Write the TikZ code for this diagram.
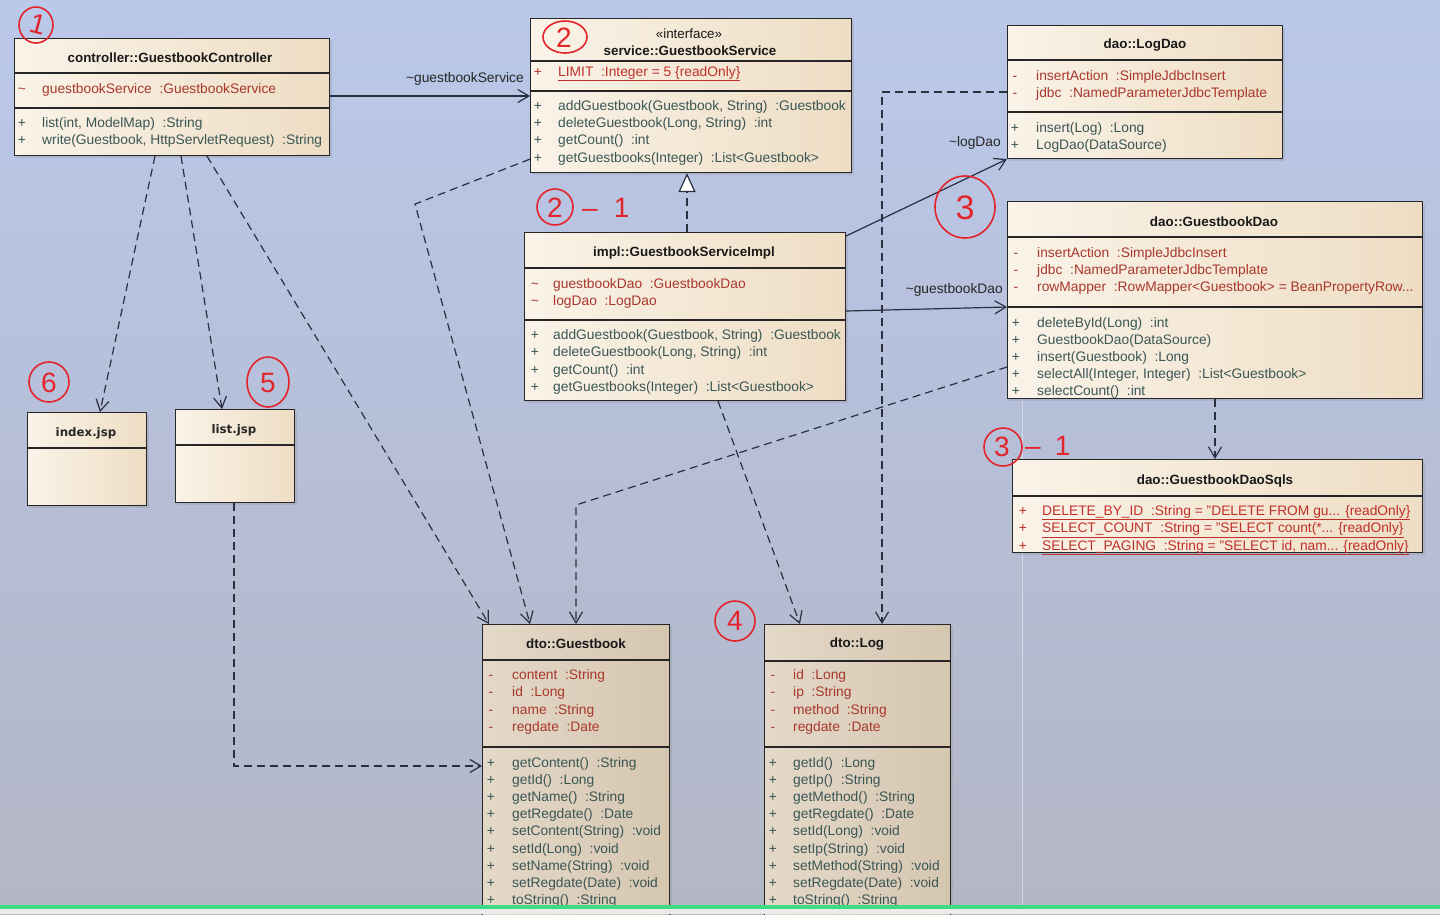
\documentclass[tikz,border=0pt]{standalone}
\usepackage{fontspec}
\setmainfont{Liberation Sans}
\newfontfamily\jspfont{DejaVu Sans}
\usetikzlibrary{arrows.meta,calc,shadows}

\definecolor{bgtop}{HTML}{BAC8EA}
\definecolor{bgmid}{HTML}{B8C2DE}
\definecolor{bgbot}{HTML}{B3B6C5}
\definecolor{boxlight}{HTML}{FAF3E8}
\definecolor{boxdark}{HTML}{EEDDC4}
\definecolor{dtolight}{HTML}{E4D8C8}
\definecolor{dtodark}{HTML}{D5C6B0}
\definecolor{attrred}{HTML}{A8372C}
\definecolor{staticred}{HTML}{C0302A}
\definecolor{optext}{HTML}{3A5655}
\definecolor{linkcol}{HTML}{283040}
\definecolor{pen}{HTML}{E3242B}
\definecolor{bargreen}{HTML}{3DDC84}
\definecolor{faint}{HTML}{D2D8E8}

\newcommand\umlfont{\fontsize{13.8}{16}\selectfont}
\newcommand\umltitlefont{\fontsize{13.4}{16}\selectfont}

% one row per member: visibility marker and text, evenly spaced
\newcommand\memberrows[7]{%
  \foreach \m/\t [count=\i] in {#7}{%
    \node[#2, mk] (#1-m\i) at (#3, {#5+#6*(\i-1)}) {\m};
    \node[#2] (#1-\i) at (#4, {#5+#6*(\i-1)}) {\t};
  }}
% compartment separator, #2 below the top edge
\newcommand\compsep[2]{%
  \draw[sepline] ($(#1.north west)+(0,#2)$) -- ($(#1.north east)+(0,#2)$);}

\begin{document}
\begin{tikzpicture}[x=1pt,y=-1pt,
  classbox/.style={draw=black!85, line width=1.1pt, inner sep=0pt, anchor=north west,
    left color=boxlight, right color=boxdark,
    drop shadow={shadow xshift=2.5pt, shadow yshift=-2.5pt, opacity=0.22}},
  dtobox/.style={classbox, left color=dtolight, right color=dtodark},
  sepline/.style={draw=black!85, line width=1.1pt},
  title/.style={font=\umltitlefont\bfseries, text=black!90, inner sep=0pt},
  stereo/.style={font=\umltitlefont, text=black!90, inner sep=0pt},
  jsptitle/.style={font={\jspfont\bfseries\fontsize{11.8}{14}\selectfont}, text=black!85, inner sep=0pt},
  mtext/.style={font=\umlfont, anchor=base west, inner sep=0pt},
  attr/.style={mtext, text=attrred},
  sattr/.style={mtext, text=staticred},
  op/.style={mtext, text=optext},
  mk/.style={anchor=base},
  link/.style={draw=linkcol, line width=1.2pt},
  dep/.style={link, dash pattern=on 8pt off 5pt, -{Straight Barb[length=11pt,width=13pt]}},
  assoc/.style={link, -{Straight Barb[length=11pt,width=13pt]}},
  realize/.style={link, dash pattern=on 8pt off 5pt, -{Triangle[open,length=19pt,width=17pt,fill=white]}},
  lbl/.style={font=\umlfont, text=black!85, inner sep=0pt, anchor=east},
  penline/.style={draw=pen, line width=1.6pt},
  pennum/.style={text=pen, font=\fontsize{28}{30}\selectfont, inner sep=0pt}
]
\useasboundingbox (0,0) rectangle (1440,914);
\begin{scope}
\clip (0,0) rectangle (1440,914);
\shade[top color=bgtop, middle color=bgmid, bottom color=bgbot] (0,0) rectangle (1440,914);
\draw[faint, line width=1pt] (1022,400) -- (1022,905);

% ---------- classes ----------
\node[classbox, minimum width=315, minimum height=117] (ctrl) at (14,38) {};
\compsep{ctrl}{35}\compsep{ctrl}{70}
\node[title] (ctrl-t) at (170,58) {controller::GuestbookController};
\memberrows{ctrl-a}{attr}{22}{42}{93}{17}{\textasciitilde/{guestbookService~~:GuestbookService}}
\memberrows{ctrl-o}{op}{22}{42}{127}{17}{+/{list(int, ModelMap)~~:String},+/{write(Guestbook, HttpServletRequest)~~:String}}

\node[classbox, minimum width=321, minimum height=154] (iface) at (530,18) {};
\compsep{iface}{43}\compsep{iface}{73}
\node[stereo] (iface-s) at (689,34) {«interface»};
\node[title] (iface-t) at (690,51) {service::GuestbookService};
\memberrows{iface-a}{sattr}{538}{558}{76}{17}{+/{\underline{LIMIT~~:Integer = 5 \{readOnly\}}}}
\memberrows{iface-o}{op}{538}{558}{110}{17.4}{+/{addGuestbook(Guestbook, String)~~:Guestbook},+/{deleteGuestbook(Long, String)~~:int},+/{getCount()~~:int},+/{getGuestbooks(Integer)~~:List<Guestbook>}}

\node[classbox, minimum width=275, minimum height=133] (logdao) at (1007,25) {};
\compsep{logdao}{35}\compsep{logdao}{87}
\node[title] (logdao-t) at (1145,45) {dao::LogDao};
\memberrows{logdao-a}{attr}{1015}{1036}{80}{17.4}{-/{insertAction~~:SimpleJdbcInsert},-/{jdbc~~:NamedParameterJdbcTemplate}}
\memberrows{logdao-o}{op}{1015}{1036}{132}{17.4}{+/{insert(Log)~~:Long},+/{LogDao(DataSource)}}

\node[classbox, minimum width=415, minimum height=197] (gbdao) at (1007,201) {};
\compsep{gbdao}{36}\compsep{gbdao}{106}
\node[title] (gbdao-t) at (1214,222) {dao::GuestbookDao};
\memberrows{gbdao-a}{attr}{1016}{1037}{257}{17.4}{-/{insertAction~~:SimpleJdbcInsert},-/{jdbc~~:NamedParameterJdbcTemplate},-/{rowMapper~~:RowMapper<Guestbook> = BeanPropertyRow...}}
\memberrows{gbdao-o}{op}{1016}{1037}{327}{17.1}{+/{deleteById(Long)~~:int},+/{GuestbookDao(DataSource)},+/{insert(Guestbook)~~:Long},+/{selectAll(Integer, Integer)~~:List<Guestbook>},+/{selectCount()~~:int}}

\node[classbox, minimum width=321, minimum height=168] (impl) at (524,232) {};
\compsep{impl}{36}\compsep{impl}{88}
\node[title] (impl-t) at (684,253) {impl::GuestbookServiceImpl};
\memberrows{impl-a}{attr}{535}{553}{288}{17}{\textasciitilde/{guestbookDao~~:GuestbookDao},\textasciitilde/{logDao~~:LogDao}}
\memberrows{impl-o}{op}{535}{553}{339}{17.6}{+/{addGuestbook(Guestbook, String)~~:Guestbook},+/{deleteGuestbook(Long, String)~~:int},+/{getCount()~~:int},+/{getGuestbooks(Integer)~~:List<Guestbook>}}

\node[classbox, minimum width=410, minimum height=93] (sqls) at (1012,459) {};
\compsep{sqls}{37}
\node[title] (sqls-t) at (1215,481) {dao::GuestbookDaoSqls};
\memberrows{sqls-a}{sattr}{1023}{1042}{515}{17.5}{+/{\underline{DELETE\_BY\_ID~~:String = "DELETE FROM gu... \{readOnly\}}},+/{\underline{SELECT\_COUNT~~:String = "SELECT count(*... \{readOnly\}}},+/{\underline{SELECT\_PAGING~~:String = "SELECT id, nam... \{readOnly\}}}}

\node[dtobox, minimum width=187, minimum height=300] (dgb) at (482,624) {};
\compsep{dgb}{36}\compsep{dgb}{123}
\node[title] (dgb-t) at (576,644) {dto::Guestbook};
\memberrows{dgb-a}{attr}{491}{512}{679}{17.6}{-/{content~~:String},-/{id~~:Long},-/{name~~:String},-/{regdate~~:Date}}
\memberrows{dgb-o}{op}{491}{512}{767}{17.2}{+/{getContent()~~:String},+/{getId()~~:Long},+/{getName()~~:String},+/{getRegdate()~~:Date},+/{setContent(String)~~:void},+/{setId(Long)~~:void},+/{setName(String)~~:void},+/{setRegdate(Date)~~:void},+/{toString()~~:String}}

\node[dtobox, minimum width=186, minimum height=300] (dlog) at (764,624) {};
\compsep{dlog}{37}\compsep{dlog}{123}
\node[title] (dlog-t) at (857,644) {dto::Log};
\memberrows{dlog-a}{attr}{773}{793}{679}{17.6}{-/{id~~:Long},-/{ip~~:String},-/{method~~:String},-/{regdate~~:Date}}
\memberrows{dlog-o}{op}{773}{793}{767}{17.2}{+/{getId()~~:Long},+/{getIp()~~:String},+/{getMethod()~~:String},+/{getRegdate()~~:Date},+/{setId(Long)~~:void},+/{setIp(String)~~:void},+/{setMethod(String)~~:void},+/{setRegdate(Date)~~:void},+/{toString()~~:String}}

\node[classbox, minimum width=119, minimum height=93] (index) at (27,412) {};
\compsep{index}{36}
\node[jsptitle] (index-t) at (86,433) {index.jsp};

\node[classbox, minimum width=119, minimum height=93] (list) at (175,409) {};
\compsep{list}{36}
\node[jsptitle] (list-t) at (234,430) {list.jsp};

% ---------- connectors ----------
\draw[assoc] ($(ctrl.north east)+(0,58)$) -- ($(iface.north west)+(0,78)$);
\node[lbl] (lbl-svc) at (524,79) {\textasciitilde guestbookService};
\draw[realize] ($(impl.north west)+(163,0)$) -- ($(iface.south west)+(157,0)$);
\draw[assoc] ($(impl.north east)+(0,4)$) -- (logdao.south west);
\node[lbl] (lbl-log) at (1001,143) {\textasciitilde logDao};
\draw[assoc] ($(impl.north east)+(0,79)$) -- ($(gbdao.north west)+(0,106)$);
\node[lbl] (lbl-gb) at (1003,290) {\textasciitilde guestbookDao};

\draw[dep] ($(ctrl.south west)+(141,0)$) -- ($(index.north west)+(73,0)$);
\draw[dep] ($(ctrl.south west)+(167,0)$) -- ($(list.north west)+(47,0)$);
\draw[dep] ($(ctrl.south west)+(193,0)$) -- ($(dgb.north west)+(7,0)$);
\coordinate (ifbend) at ($(iface.south west)+(-115,31)$);
\draw[dep] ($(iface.south west)+(0,-14)$) -- (ifbend) -- ($(dgb.north west)+(48,0)$);
\coordinate (gbbend) at ($(dgb.north west)+(94,-119)$);
\draw[dep] ($(gbdao.north west)+(0,166)$) -- (gbbend) -- ($(dgb.north west)+(94,0)$);
\draw[dep] ($(impl.south west)+(194,0)$) -- ($(dlog.north west)+(36,0)$);
\draw[dep] ($(logdao.north west)+(0,67)$) -| ($(dlog.north west)+(118,0)$);
\draw[dep] ($(gbdao.south west)+(208,0)$) -- ($(sqls.north west)+(203,0)$);
\draw[dep] ($(list.south west)+(59,0)$) |- ($(dgb.north west)+(0,142)$);

% ---------- pen notes ----------
\node[pennum, rotate=-15] (note1) at (38,24) {1};
\draw[penline] (36,25) ellipse (17 and 18);
\node[pennum] (note2) at (564,38) {2};
\draw[penline] (565,37) ellipse (22 and 16);
\node[pennum] (note21) at (555,208) {2};
\draw[penline] (555,207) circle (18);
\node[pennum, anchor=west] (note21b) at (582,208) {–\hspace{16pt}1};
\node[pennum, font=\fontsize{34}{36}\selectfont] (note3) at (965,208) {3};
\draw[penline] (965,207) ellipse (30 and 31);
\node[pennum] (note31) at (1002,447) {3};
\draw[penline] (1003,447) circle (19);
\node[pennum, anchor=west] (note31b) at (1025,446) {–\hspace{14pt}1};
\node[pennum] (note4) at (735,621) {4};
\draw[penline] (735,621) circle (20);
\node[pennum] (note5) at (268,383) {5};
\draw[penline] (268,382) ellipse (21 and 25);
\node[pennum] (note6) at (49,383) {6};
\draw[penline] (49,382) circle (20);

% ---------- bottom strip ----------
\fill[black!8] (0,909) rectangle (1440,914);
\fill[bargreen] (0,905) rectangle (1440,909);
\end{scope}
\end{tikzpicture}
\end{document}
